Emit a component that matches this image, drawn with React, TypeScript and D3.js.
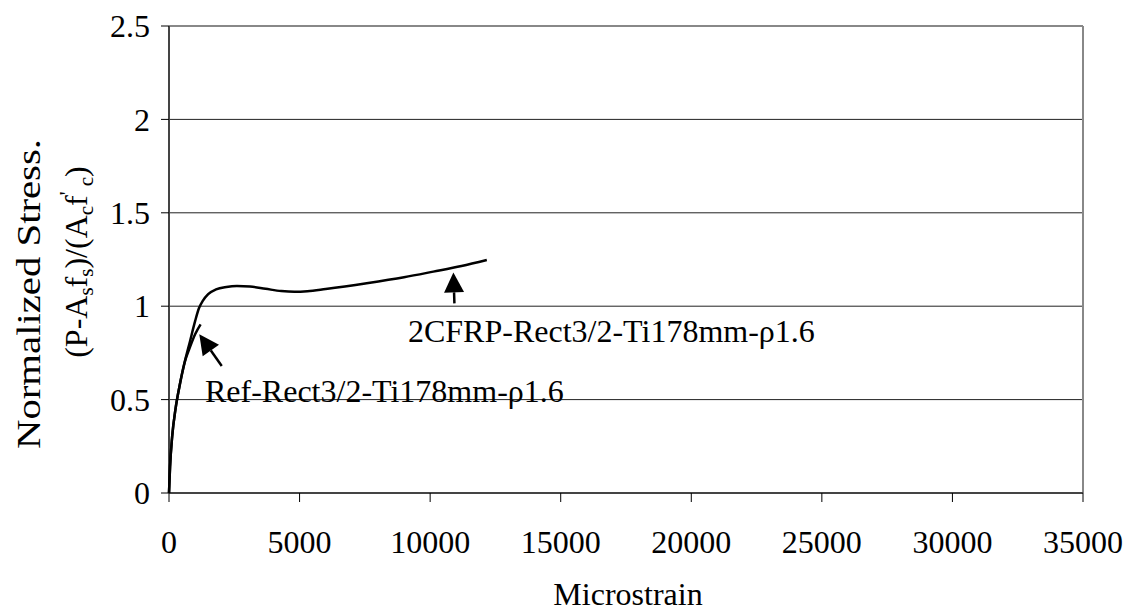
import React, { useEffect } from "react";
import * as d3 from "d3";

// Data
const cfrpStrain = [0, 40, 120, 250, 400, 600, 800, 1000, 1150, 1300, 1500, 1800, 2200, 2600, 3100, 3700, 4300, 4800, 5300, 6000, 7570, 9000, 10120, 11200, 12170];
const cfrpStress = [0, 0.14, 0.3, 0.45, 0.57, 0.7, 0.81, 0.92, 0.99, 1.03, 1.065, 1.09, 1.103, 1.108, 1.105, 1.093, 1.081, 1.077, 1.08, 1.092, 1.123, 1.155, 1.185, 1.215, 1.247];

const refStrain = [0, 40, 120, 250, 400, 600, 800, 1000, 1210];
const refStress = [0, 0.14, 0.3, 0.45, 0.57, 0.7, 0.78, 0.85, 0.903];

const xTicks = [0, 5000, 10000, 15000, 20000, 25000, 30000, 35000];
const yTicks = [0, 0.5, 1, 1.5, 2, 2.5];

const labels = ["2CFRP-Rect3/2-Ti178mm-ρ1.6", "Ref-Rect3/2-Ti178mm-ρ1.6"];
const labelStrain = [9150, 1378];
const labelStress = [0.81, 0.489];
// arrows: tail and tip in data units
const arrowTail = [[10930, 1.015], [2020, 0.68]];
const arrowTip = [[10890, 1.181], [1160, 0.85]];

const W = 1128, H = 613;
const M = { left: 169, right: 1083, top: 26, bottom: 493 };
const FONT = "'Liberation Serif', 'Times New Roman', serif";
const FS = 32;

export default function App() {
  useEffect(() => {
    document.body.style.margin = "0";
  }, []);
  const x = d3.scaleLinear().domain([0, 35000]).range([M.left, M.right]);
  const y = d3.scaleLinear().domain([0, 2.5]).range([M.bottom, M.top]);
  const line = d3.line<[number, number]>().x(d => x(d[0])).y(d => y(d[1])).curve(d3.curveMonotoneX);
  const cfrp = cfrpStrain.map((s, i) => [s, cfrpStress[i]] as [number, number]);
  const ref = refStrain.map((s, i) => [s, refStress[i]] as [number, number]);

  const arrow = (tail: number[], tip: number[], k: number) => {
    const x1 = x(tail[0]), y1 = y(tail[1]), x2 = x(tip[0]), y2 = y(tip[1]);
    const dx = x2 - x1, dy = y2 - y1, len = Math.hypot(dx, dy);
    const ux = dx / len, uy = dy / len;
    const hl = 20, hw = 10;
    const bx = x2 - ux * hl, by = y2 - uy * hl;
    const p = `${x2},${y2} ${bx - uy * hw},${by + ux * hw} ${bx + uy * hw},${by - ux * hw}`;
    return (
      <g key={k}>
        <line x1={x1} y1={y1} x2={bx} y2={by} stroke="#000" strokeWidth={2.5} />
        <polygon points={p} fill="#000" />
      </g>
    );
  };

  return (
    <svg width={W} height={H} style={{ display: "block", background: "#fff" }} fontFamily={FONT}>
      {/* gridlines */}
      {yTicks.filter(t => t > 0 && t < 2.5).map(t => (
        <line key={t} x1={M.left} x2={M.right} y1={y(t)} y2={y(t)} stroke="#222" strokeWidth={1} />
      ))}
      {/* frame */}
      <line x1={M.left} x2={M.right} y1={M.top} y2={M.top} stroke="#888" strokeWidth={2} />
      <line x1={M.right} x2={M.right} y1={M.top} y2={M.bottom} stroke="#888" strokeWidth={2} />
      <line x1={M.left} x2={M.left} y1={M.top} y2={M.bottom} stroke="#444" strokeWidth={2} />
      <line x1={M.left} x2={M.right} y1={M.bottom} y2={M.bottom} stroke="#444" strokeWidth={2} />
      {/* y ticks */}
      {yTicks.map(t => (
        <g key={t}>
          <line x1={M.left - 8} x2={M.left} y1={y(t)} y2={y(t)} stroke="#000" strokeWidth={1} />
          <text x={150} y={y(t)} dy="0.35em" textAnchor="end" fontSize={FS}>{t}</text>
        </g>
      ))}
      {/* x ticks */}
      {xTicks.map(t => (
        <g key={t}>
          <line x1={x(t)} x2={x(t)} y1={M.bottom} y2={M.bottom + 9} stroke="#000" strokeWidth={1} />
          <text x={x(t)} y={553} textAnchor="middle" fontSize={FS}>{t}</text>
        </g>
      ))}
      {/* curves */}
      <path d={line(ref) || ""} fill="none" stroke="#000" strokeWidth={2.5} />
      <path d={line(cfrp) || ""} fill="none" stroke="#000" strokeWidth={2.5} />
      {/* annotations */}
      {labels.map((l, i) => (
        <text key={l} x={x(labelStrain[i])} y={y(labelStress[i])} fontSize={FS}>{l}</text>
      ))}
      {arrowTail.map((t, i) => arrow(t, arrowTip[i], i))}
      {/* axis titles */}
      <text x={628} y={605} textAnchor="middle" fontSize={FS}>Microstrain</text>
      <text transform="translate(40,294) rotate(-90)" textAnchor="middle" fontSize={33} textLength={310} lengthAdjust="spacingAndGlyphs">Normalized Stress.</text>
      <text transform="translate(87,262) rotate(-90)" textAnchor="middle" fontSize={FS}>
        (P-A<tspan fontSize={21} dy={6}>s</tspan><tspan dy={-6}>f</tspan><tspan fontSize={21} dy={6}>s</tspan><tspan dy={-6}>)/(A</tspan><tspan fontSize={21} dy={6}>c</tspan><tspan dy={-6}>f</tspan><tspan fontSize={21} dy={-13}>'</tspan><tspan fontSize={21} dy={19}> c</tspan><tspan dy={-6}>)</tspan>
      </text>
    </svg>
  );
}
